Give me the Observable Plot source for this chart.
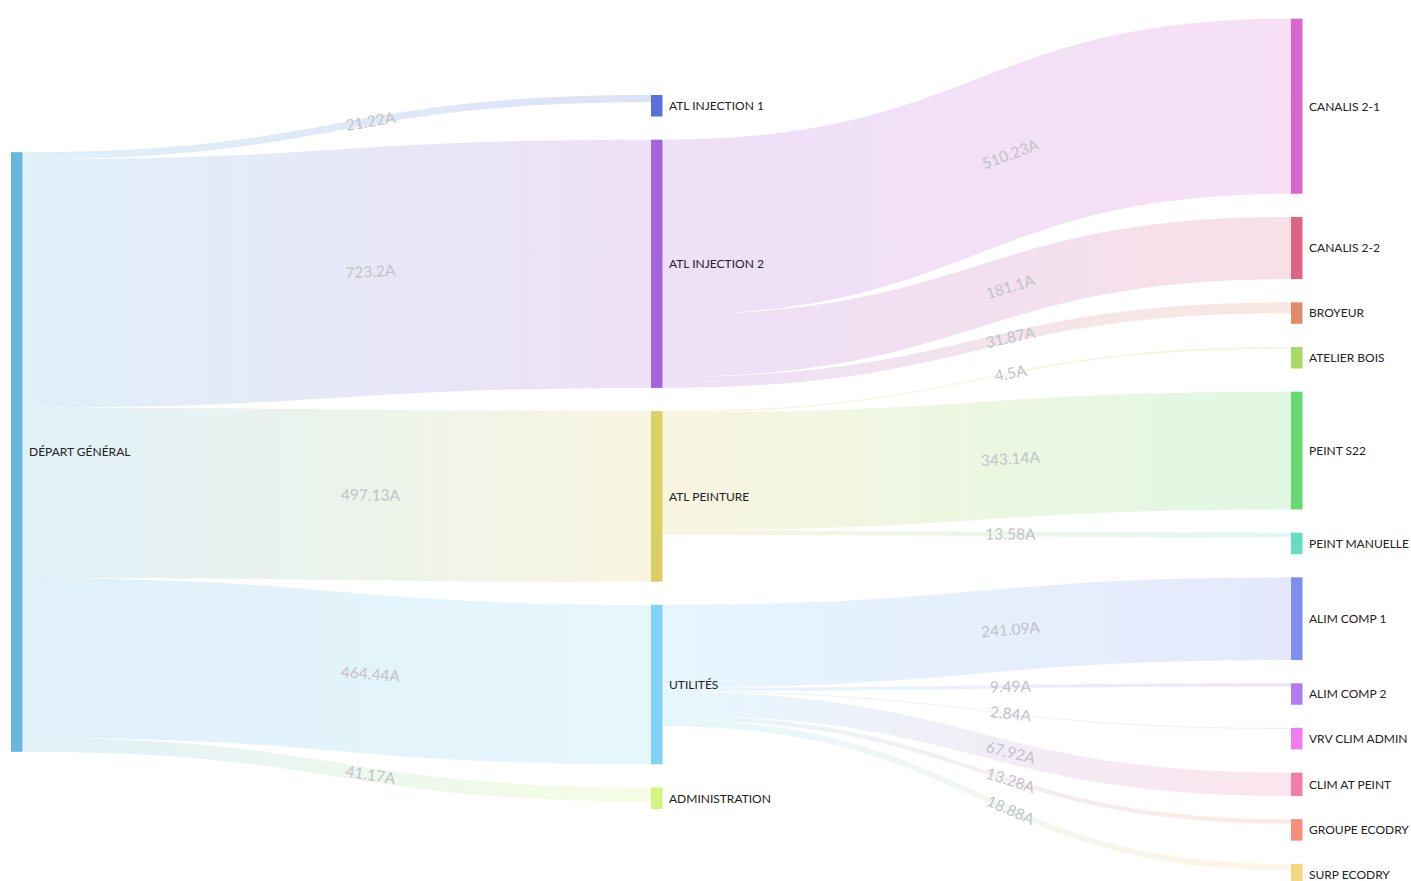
<!DOCTYPE html>
<html>
<head>
<meta charset="utf-8">
<script src="https://cdn.jsdelivr.net/npm/d3@7"></script>
<script src="https://cdn.jsdelivr.net/npm/@observablehq/plot@0.6"></script>
<style>
  html, body { margin: 0; padding: 0; background: #fff; overflow: hidden; }
</style>
</head>
<body>
<div id="chart"></div>
<script>
// ---------- data ----------
const nodeNames = [
  "DÉPART GÉNÉRAL",
  "ATL INJECTION 1", "ATL INJECTION 2", "ATL PEINTURE", "UTILITÉS", "ADMINISTRATION",
  "CANALIS 2-1", "CANALIS 2-2", "BROYEUR", "ATELIER BOIS", "PEINT S22", "PEINT MANUELLE",
  "ALIM COMP 1", "ALIM COMP 2", "VRV CLIM ADMIN", "CLIM AT PEINT", "GROUPE ECODRY", "SURP ECODRY"
];
const nodeColors = [
  "#66b7de",
  "#5c6edc", "#a464da", "#dccf64", "#80d3f7", "#d3f57c",
  "#da66d0", "#dc6585", "#e08c68", "#a6dc66", "#66da70", "#66dcc0",
  "#7f8ef2", "#b07cf2", "#f47cf2", "#f27caa", "#f58e7c", "#f5d580"
];
const linkSources = [
  "DÉPART GÉNÉRAL", "DÉPART GÉNÉRAL", "DÉPART GÉNÉRAL", "DÉPART GÉNÉRAL", "DÉPART GÉNÉRAL",
  "ATL INJECTION 2", "ATL INJECTION 2", "ATL INJECTION 2",
  "ATL PEINTURE", "ATL PEINTURE", "ATL PEINTURE",
  "UTILITÉS", "UTILITÉS", "UTILITÉS", "UTILITÉS", "UTILITÉS", "UTILITÉS"
];
const linkTargets = [
  "ATL INJECTION 1", "ATL INJECTION 2", "ATL PEINTURE", "UTILITÉS", "ADMINISTRATION",
  "CANALIS 2-1", "CANALIS 2-2", "BROYEUR",
  "ATELIER BOIS", "PEINT S22", "PEINT MANUELLE",
  "ALIM COMP 1", "ALIM COMP 2", "VRV CLIM ADMIN", "CLIM AT PEINT", "GROUPE ECODRY", "SURP ECODRY"
];
const linkValues = [
  21.22, 723.2, 497.13, 464.44, 41.17,
  510.23, 181.1, 31.87,
  4.5, 343.14, 13.58,
  241.09, 9.49, 2.84, 67.92, 13.28, 18.88
];
const unit = "A";

// ---------- layout settings ----------
const W = 1411, H = 881;
const X_RANGE = [11, 1291];      // left edge of first and last column
const Y_DOMAIN = [-1250, 1250];  // layout units (amps), centred on 0
const Y_RANGE = [23, 881];
const NODE_W = 11.5;             // px
const GAP = 67.6;                // amps between nodes in a column
const MIN_NODE = 62.6;           // minimum node height in amps
const LABEL_T = 0.57;            // bezier parameter of link labels

const kx = (X_RANGE[1] - X_RANGE[0]) / 2;
const ky = (Y_RANGE[1] - Y_RANGE[0]) / (Y_DOMAIN[1] - Y_DOMAIN[0]);
const nodeWu = NODE_W / kx;

// ---------- sankey layout ----------
const nodes = nodeNames.map((name, i) => ({name, color: nodeColors[i], ins: [], outs: [], depth: 0}));
const byName = new Map(nodes.map(n => [n.name, n]));
const links = linkValues.map((value, i) => {
  const l = {source: byName.get(linkSources[i]), target: byName.get(linkTargets[i]), value,
             label: value + unit};
  l.source.outs.push(l); l.target.ins.push(l);
  return l;
});
let changed = true;
while (changed) {
  changed = false;
  for (const l of links) if (l.target.depth < l.source.depth + 1) { l.target.depth = l.source.depth + 1; changed = true; }
}
for (const n of nodes) {
  n.value = Math.max(d3.sum(n.ins, l => l.value), d3.sum(n.outs, l => l.value));
  n.h = Math.max(n.value, MIN_NODE);
}
const columns = d3.groups(nodes, n => n.depth);
for (const [, col] of columns) {
  const total = d3.sum(col, n => n.h) + (col.length - 1) * GAP;
  let y = -total / 2;
  for (const n of col) { n.y0 = y; n.y1 = y + n.h; n.cy = (n.y0 + n.y1) / 2; y = n.y1 + GAP; }
}
for (const n of nodes) {
  let y = n.y0;
  for (const l of [...n.outs].sort((a, b) => a.target.y0 - b.target.y0)) { l.sy0 = y; y += l.value; l.sy1 = y; }
  y = n.y0;
  for (const l of [...n.ins].sort((a, b) => a.source.y0 - b.source.y0)) { l.ty0 = y; y += l.value; l.ty1 = y; }
  n.x1 = n.depth + nodeWu;
}
const t = LABEL_T;
const fx = 1.5 * t * (1 - t) + t * t * t;
const fy = 3 * t * t - 2 * t * t * t;
const dslope = (6 * t - 6 * t * t) / (1.5 - 3 * t + 3 * t * t);
for (const l of links) {
  const xs = l.source.depth + nodeWu, xt = l.target.depth;
  const ys = (l.sy0 + l.sy1) / 2, yt = (l.ty0 + l.ty1) / 2;
  l.lx = xs + fx * (xt - xs);
  l.ly = ys + fy * (yt - ys);
  l.angle = Math.atan(dslope * ((yt - ys) * ky) / ((xt - xs) * kx)) * 180 / Math.PI;
}

// ---------- links as gradient bands ----------
const NS = "http://www.w3.org/2000/svg";
function linkBands(index, scales) {
  const x = scales.x, y = scales.y;
  const g = document.createElementNS(NS, "g");
  const defs = document.createElementNS(NS, "defs");
  g.appendChild(defs);
  links.forEach((l, i) => {
    const xs = x(l.source.depth) + NODE_W, xt = x(l.target.depth), xm = (xs + xt) / 2;
    const a0 = y(l.sy0), a1 = y(l.sy1), b0 = y(l.ty0), b1 = y(l.ty1);
    const grad = document.createElementNS(NS, "linearGradient");
    grad.setAttribute("id", "lg" + i);
    grad.setAttribute("gradientUnits", "userSpaceOnUse");
    grad.setAttribute("x1", xs); grad.setAttribute("x2", xt);
    grad.setAttribute("y1", 0); grad.setAttribute("y2", 0);
    for (const [off, c] of [[0, l.source.color], [1, l.target.color]]) {
      const s = document.createElementNS(NS, "stop");
      s.setAttribute("offset", off); s.setAttribute("stop-color", c);
      grad.appendChild(s);
    }
    defs.appendChild(grad);
    const p = document.createElementNS(NS, "path");
    p.setAttribute("d", `M${xs},${a0}C${xm},${a0} ${xm},${b0} ${xt},${b0}L${xt},${b1}C${xm},${b1} ${xm},${a1} ${xs},${a1}Z`);
    p.setAttribute("fill", `url(#lg${i})`);
    p.setAttribute("fill-opacity", 0.2);
    g.appendChild(p);
  });
  return g;
}

const chart = Plot.plot({
  width: W,
  height: H,
  margin: 0,
  style: {fontFamily: "Lato, 'Open Sans', sans-serif", background: "#fff"},
  x: {domain: [0, 2], range: X_RANGE, axis: null},
  y: {domain: Y_DOMAIN, range: Y_RANGE, axis: null},
  marks: [
    linkBands,
    Plot.rect(nodes, {x1: "depth", x2: "x1", y1: "y0", y2: "y1", fill: "color"}),
    Plot.text(links, {x: "lx", y: "ly", text: "label", rotate: "angle", fill: "#c2c2c8", fontSize: 15.5}),
    Plot.text(nodes, {x: "x1", y: "cy", text: "name", dx: 6, textAnchor: "start", fill: "#222", fontSize: 12})
  ]
});
document.getElementById("chart").appendChild(chart);
</script>
</body>
</html>
